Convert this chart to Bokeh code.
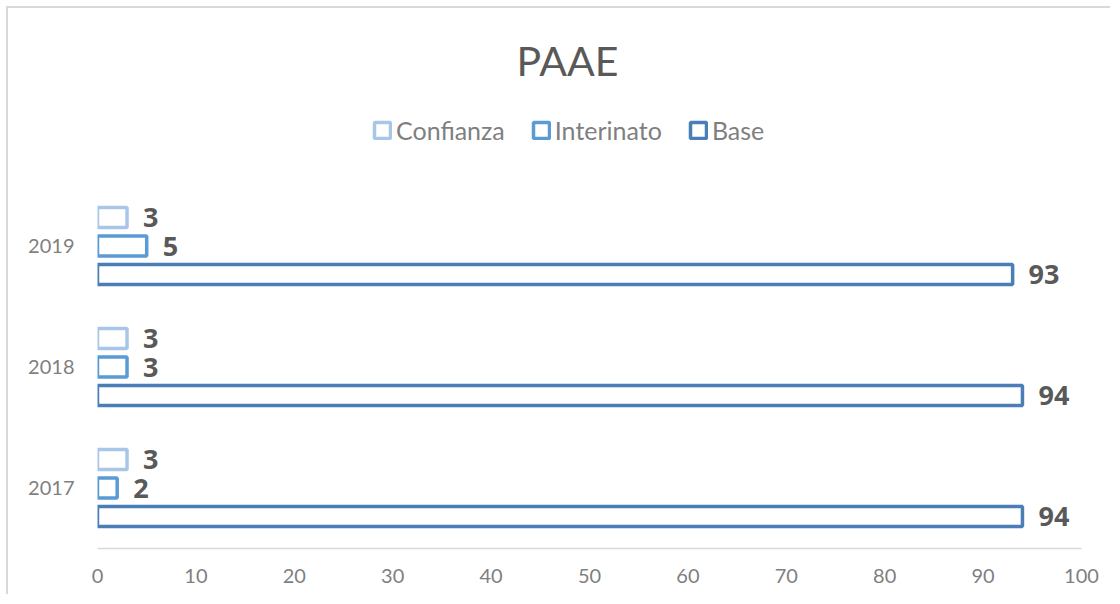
from bokeh.plotting import figure
from bokeh.models import (ColumnDataSource, LabelSet, Label, Legend, LegendItem, Range1d,
                          SingleIntervalTicker, FixedTicker)
from bokeh.core.properties import value
from bokeh.transform import dodge
from bokeh.embed import file_html
from bokeh.resources import INLINE

years = ["2017", "2018", "2019"]
series = ["Confianza", "Interinato", "Base"]
confianza = [3, 3, 3]
interinato = [2, 3, 5]
base = [94, 94, 93]
colors = ["#a9c6e8", "#5b9bd5", "#4a7eb7"]
offsets = [0.236, 0.0, -0.236]
values = [confianza, interinato, base]

FONT = "Lato"
BOLD = "Open Sans"

ypos = list(range(len(years)))

p = figure(width=1104, height=588, x_range=Range1d(0, 100), y_range=Range1d(-0.5, 3.963),
           output_backend="svg", toolbar_location=None, title=None,
           min_border_left=89, min_border_right=31, min_border_top=0, min_border_bottom=48)

legend_renderers = []
for name, vals, col, off in zip(series, values, colors, offsets):
    src = ColumnDataSource(dict(y=ypos, val=vals, lab=[str(v) for v in vals]))
    r = p.hbar(y=dodge("y", off), right="val", left=0, height=0.165,
               source=src, fill_color="white", line_color=col, line_width=3.5)
    legend_renderers.append((name, r))
    labels = LabelSet(x="val", y=dodge("y", off), text="lab", source=src,
                      x_offset=16, text_baseline="middle", text_align="left",
                      text_font=value(BOLD), text_font_size=value("27px"),
                      text_font_style=value("bold"), text_color=value("#595959"))
    p.add_layout(labels)

legend = Legend(items=[LegendItem(label=n, renderers=[r]) for n, r in legend_renderers],
                orientation="horizontal", location=(275, 403),
                label_text_font=FONT, label_text_font_size="25px", label_text_color="#7f7f7f",
                glyph_width=20, glyph_height=20, label_standoff=4, spacing=26,
                border_line_color=None, background_fill_alpha=0, margin=0, padding=0)
p.add_layout(legend, "center")

title = Label(x=470, y=488, x_units="screen", y_units="screen", text="PAAE",
              text_align="center", text_baseline="middle", text_font=FONT,
              text_font_size="41px", text_color="#595959")
p.add_layout(title)

p.xaxis.ticker = SingleIntervalTicker(interval=10)
p.xaxis.axis_line_color = "#d9d9d9"
p.xaxis.axis_line_width = 1.5
p.xaxis.major_tick_line_color = None
p.xaxis.minor_tick_line_color = None
p.xaxis.major_label_text_font = FONT
p.xaxis.major_label_text_font_size = "20px"
p.xaxis.major_label_text_color = "#7f7f7f"
p.xaxis.major_label_standoff = 14

p.yaxis.ticker = FixedTicker(ticks=ypos)
p.yaxis.major_label_overrides = {i: y for i, y in zip(ypos, years)}
p.yaxis.axis_line_color = None
p.yaxis.major_tick_line_color = None
p.yaxis.minor_tick_line_color = None
p.yaxis.major_label_text_font = FONT
p.yaxis.major_label_text_font_size = "20px"
p.yaxis.major_label_text_color = "#7f7f7f"
p.yaxis.major_label_standoff = 17

p.grid.visible = False
p.outline_line_color = None
p.styles = {"border-left": "2px solid #d9d9d9", "border-top": "2px solid #d9d9d9",
            "margin-left": "6px", "margin-top": "6px"}

open("out.html", "w").write(file_html(p, INLINE))
